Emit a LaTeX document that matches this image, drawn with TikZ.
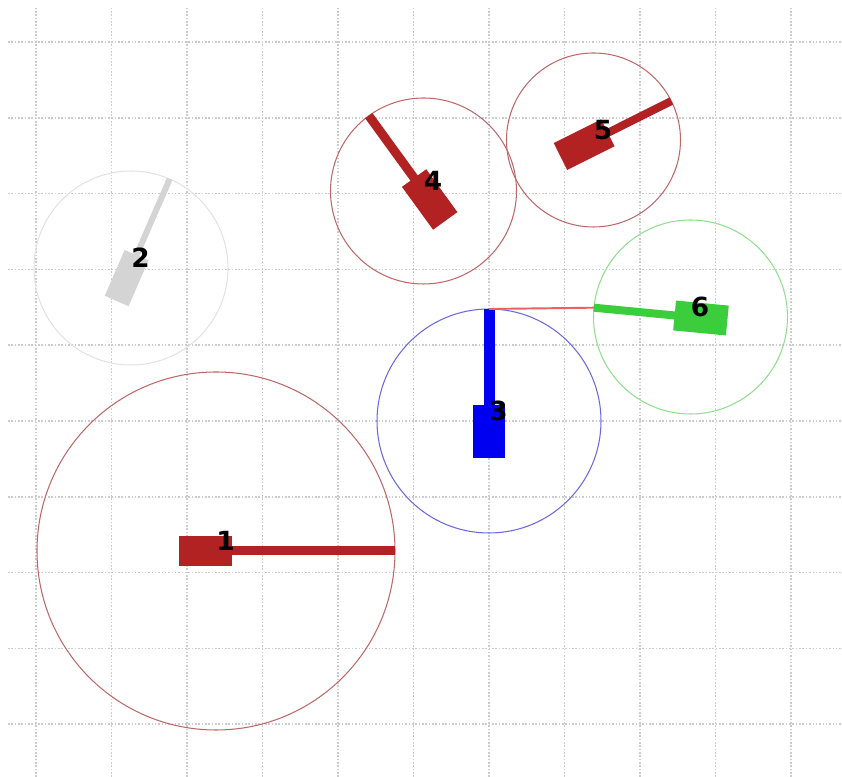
\documentclass[tikz,border=0pt]{standalone}
\usepackage{fontspec}
\setsansfont{DejaVu Sans}
\usetikzlibrary{calc}
\definecolor{TankRed}{RGB}{178,34,34}
\definecolor{RingRed}{RGB}{190,105,105}
\definecolor{TankGray}{RGB}{212,212,212}
\definecolor{RingGray}{RGB}{226,226,226}
\definecolor{TankBlue}{RGB}{0,0,240}
\definecolor{RingBlue}{RGB}{105,105,225}
\definecolor{TankGreen}{RGB}{60,205,60}
\definecolor{RingGreen}{RGB}{145,222,145}
\definecolor{AimRed}{RGB}{240,95,95}

\begin{document}
\begin{tikzpicture}[x=0.02cm, y=0.02cm,
	gridline/.style={gray!40, densely dotted, line width=0.9pt},
	ring/.style={line width=0.6pt},
	aim/.style={AimRed, line width=1.1pt},
	tag/.style={anchor=south west, inner sep=0pt, font=\sffamily\bfseries\fontsize{15}{15}\selectfont}]
	\useasboundingbox (0,0) rectangle (842,777);
	% dotted grid
	\foreach \gx in {0,...,10}
		\draw[gridline] (36+75.5*\gx,0) -- (36+75.5*\gx,771);
	\foreach \gy in {0,...,9}
		\draw[gridline] (8,735-75.8*\gy) -- (842,735-75.8*\gy);
	% tank 1
	\coordinate (t1) at (216,226);
	\draw[ring, RingRed] (t1) circle (179);
	\begin{scope}[shift={(t1)}, rotate=0]
		\fill[TankRed] (-37,-15) rectangle (16,15);
		\fill[TankRed] (0,-4.5) rectangle (179,4.5);
	\end{scope}
	% tank 2
	\coordinate (t2) at (131,509);
	\draw[ring, RingGray] (t2) circle (97);
	\begin{scope}[shift={(t2)}, rotate=66.5]
		\fill[TankGray] (-36,-13) rectangle (14,13);
		\fill[TankGray] (0,-3) rectangle (97,3);
	\end{scope}
	% tank 3
	\coordinate (t3) at (489,356);
	\draw[ring, RingBlue] (t3) circle (112);
	\begin{scope}[shift={(t3)}, rotate=90]
		\fill[TankBlue] (-37,-16) rectangle (16,16);
		\fill[TankBlue] (0,-5.5) rectangle (112,5.5);
		\coordinate (t3tip) at (112,0);
	\end{scope}
	% tank 4
	\coordinate (t4) at (423.5,586);
	\draw[ring, RingRed] (t4) circle (93);
	\begin{scope}[shift={(t4)}, rotate=126]
		\fill[TankRed] (-37,-15) rectangle (16,15);
		\fill[TankRed] (0,-4.5) rectangle (93,4.5);
	\end{scope}
	% tank 5
	\coordinate (t5) at (593.5,637);
	\draw[ring, RingRed] (t5) circle (87);
	\begin{scope}[shift={(t5)}, rotate=26.6]
		\fill[TankRed] (-37,-15) rectangle (16,15);
		\fill[TankRed] (0,-4) rectangle (87,4);
	\end{scope}
	% tank 6
	\coordinate (t6) at (690.5,460);
	\draw[ring, RingGreen] (t6) circle (97);
	\begin{scope}[shift={(t6)}, rotate=174.5]
		\fill[TankGreen] (-37,-15) rectangle (16,15);
		\fill[TankGreen] (0,-4) rectangle (97,4);
		\coordinate (t6tip) at (97,0);
	\end{scope}
	\draw[aim] (t3tip) -- (t6tip);
	% labels
	\node[tag] (n1) at (t1) {1};
	\node[tag] (n2) at (t2) {2};
	\node[tag] (n3) at (t3) {3};
	\node[tag] (n4) at (t4) {4};
	\node[tag] (n5) at (t5) {5};
	\node[tag] (n6) at (t6) {6};
\end{tikzpicture}
\end{document}
